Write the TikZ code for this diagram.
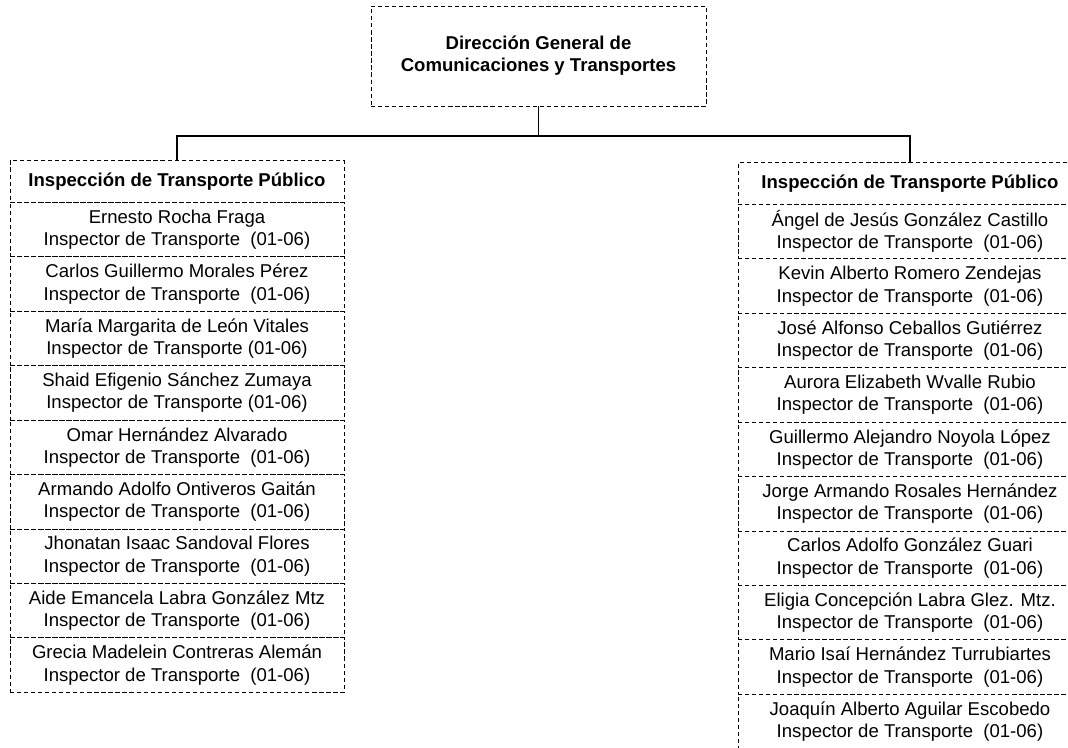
\documentclass[tikz,border=0pt]{standalone}
\usepackage{fontspec}
\setmainfont{Liberation Sans}
\usetikzlibrary{positioning}

\tikzset{
  caja/.style={draw, dash pattern=on 3pt off 2pt, line width=0.6pt, align=center,
    inner sep=0pt, outer sep=0pt, font=\fontsize{13.2}{15.8}\selectfont},
  jefe/.style={caja, minimum width=8.375cm, minimum height=2.5cm,
    font=\bfseries\fontsize{13.2}{15.8}\selectfont},
  titulo/.style={caja, minimum width=8.35cm, minimum height=1.05cm,
    font=\bfseries\fontsize{13.2}{15.8}\selectfont},
  puesto/.style={caja, minimum width=8.35cm, minimum height=1.36cm},
  linea/.style={line width=1pt},
}

\begin{document}
\begin{tikzpicture}[x=0.025cm, y=-0.025cm, node distance=0pt]
    \useasboundingbox (0,0) rectangle (1068,748);

    % dirección general
    \node[jefe] (dir) at (538.5,56) {Dirección General de\\Comunicaciones y Transportes};

    % columna izquierda
    \node[titulo] (izq) at (177,181.5) {Inspección de Transporte Público};
    \node[puesto, below=of izq] (i1) {Ernesto Rocha Fraga\\Inspector de Transporte~ (01-06)};
    \node[puesto, below=of i1] (i2) {Carlos Guillermo Morales Pérez\\Inspector de Transporte~ (01-06)};
    \node[puesto, below=of i2] (i3) {María Margarita de León Vitales\\Inspector de Transporte (01-06)};
    \node[puesto, below=of i3] (i4) {Shaid Efigenio Sánchez Zumaya\\Inspector de Transporte (01-06)};
    \node[puesto, below=of i4] (i5) {Omar Hernández Alvarado\\Inspector de Transporte~ (01-06)};
    \node[puesto, below=of i5] (i6) {Armando Adolfo Ontiveros Gaitán\\Inspector de Transporte~ (01-06)};
    \node[puesto, below=of i6] (i7) {Jhonatan Isaac Sandoval Flores\\Inspector de Transporte~ (01-06)};
    \node[puesto, below=of i7] (i8) {Aide Emancela Labra González Mtz\\Inspector de Transporte~ (01-06)};
    \node[puesto, below=of i8] (i9) {Grecia Madelein Contreras Alemán\\Inspector de Transporte~ (01-06)};

    % columna derecha
    \node[titulo, minimum width=8.6cm] (der) at (910,183.5) {Inspección de Transporte Público};
    \node[puesto, minimum width=8.6cm, below=of der] (d1) {Ángel de Jesús González Castillo\\Inspector de Transporte~ (01-06)};
    \node[puesto, minimum width=8.6cm, below=of d1] (d2) {Kevin Alberto Romero Zendejas\\Inspector de Transporte~ (01-06)};
    \node[puesto, minimum width=8.6cm, below=of d2] (d3) {José Alfonso Ceballos Gutiérrez\\Inspector de Transporte~ (01-06)};
    \node[puesto, minimum width=8.6cm, below=of d3] (d4) {Aurora Elizabeth Wvalle Rubio\\Inspector de Transporte~ (01-06)};
    \node[puesto, minimum width=8.6cm, below=of d4] (d5) {Guillermo Alejandro Noyola López\\Inspector de Transporte~ (01-06)};
    \node[puesto, minimum width=8.6cm, below=of d5] (d6) {Jorge Armando Rosales Hernández\\Inspector de Transporte~ (01-06)};
    \node[puesto, minimum width=8.6cm, below=of d6] (d7) {Carlos Adolfo González Guari\\Inspector de Transporte~ (01-06)};
    \node[puesto, minimum width=8.6cm, below=of d7] (d8) {Eligia Concepción Labra Glez. Mtz.\\Inspector de Transporte~ (01-06)};
    \node[puesto, minimum width=8.6cm, below=of d8] (d9) {Mario Isaí Hernández Turrubiartes\\Inspector de Transporte~ (01-06)};
    \node[puesto, minimum width=8.6cm, below=of d9] (d10) {Joaquín Alberto Aguilar Escobedo\\Inspector de Transporte~ (01-06)};

    % líneas de mando
    \draw[linea] (dir.south) -- ++(0,30) coordinate (bus) -| (izq.north);
    \draw[linea] (bus) -| (der.north);
\end{tikzpicture}
\end{document}
